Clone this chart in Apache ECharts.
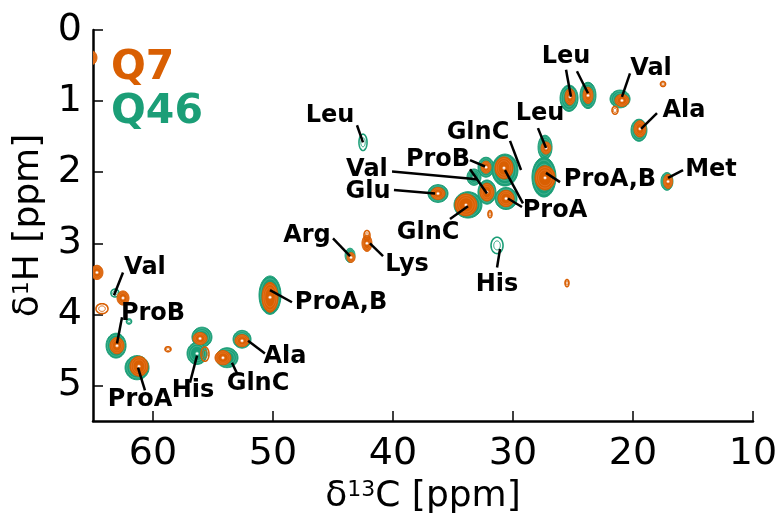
<!DOCTYPE html>
<html><head><meta charset="utf-8">
<script src="https://cdn.jsdelivr.net/npm/echarts@6/dist/echarts.min.js"></script>
<style>html,body{margin:0;padding:0;background:#fff}#c{width:783px;height:516px}</style>
</head><body><div id="c"></div>
<script>
// axis ticks (ppm)
const xTicks = [10, 20, 30, 40, 50, 60];
const yTicks = [0, 1, 2, 3, 4, 5];

// Q46 filled peaks: [13C ppm, 1H ppm, width 13C ppm, width 1H ppm]
const q46Peaks = [
  [63.08, 4.44, 1.67, 0.35], [61.33, 4.75, 2.0, 0.34], [55.92, 4.32, 1.67, 0.28],
  [56.33, 4.55, 1.67, 0.31], [53.83, 4.61, 1.83, 0.28], [52.58, 4.35, 1.5, 0.25],
  [50.25, 3.73, 1.83, 0.54], [43.58, 3.17, 0.83, 0.2], [36.25, 2.3, 1.67, 0.25],
  [33.75, 2.46, 2.33, 0.37], [32.25, 1.93, 1.33, 0.28], [33.25, 2.07, 1.17, 0.23],
  [32.17, 2.28, 1.5, 0.34], [30.67, 1.97, 2.17, 0.45], [30.58, 2.37, 1.83, 0.31],
  [27.33, 1.65, 1.17, 0.34], [27.42, 2.07, 2.0, 0.56], [25.33, 0.96, 1.5, 0.37],
  [23.75, 0.92, 1.33, 0.37], [21.08, 0.97, 1.67, 0.25], [19.5, 1.41, 1.33, 0.31],
  [17.17, 2.13, 1.0, 0.25]
];
// Q46 weak peaks drawn as contour outlines only
const q46Rings = [
  [63.17, 3.70, 0.67, 0.11], [42.5, 1.58, 0.67, 0.23], [31.33, 3.03, 1.0, 0.23],
  [62.0, 4.1, 0.42, 0.07]
];
// Q7 filled peaks
const q7Peaks = [
  [63.0, 4.44, 1.17, 0.23], [61.17, 4.73, 1.5, 0.28], [56.08, 4.34, 1.17, 0.17],
  [54.17, 4.61, 1.33, 0.2], [52.58, 4.37, 1.17, 0.17], [50.25, 3.76, 1.33, 0.42],
  [43.5, 3.2, 0.67, 0.14], [36.25, 2.3, 1.17, 0.17], [33.92, 2.46, 1.83, 0.31],
  [32.25, 1.93, 0.83, 0.17], [32.17, 2.28, 1.17, 0.25], [30.75, 1.94, 1.5, 0.31],
  [30.58, 2.37, 1.33, 0.23], [27.25, 1.66, 0.83, 0.17], [27.33, 2.08, 1.67, 0.34],
  [25.25, 0.94, 0.83, 0.23], [23.75, 0.92, 0.83, 0.23], [20.92, 0.99, 1.17, 0.17],
  [19.42, 1.39, 1.0, 0.23], [17.08, 2.13, 0.75, 0.2],
  [65.17, 0.39, 1.0, 0.2], [64.67, 3.41, 1.0, 0.2], [62.5, 3.77, 1.0, 0.2],
  [42.17, 3.0, 0.83, 0.23]
];
// Q7 weak peaks drawn as contour outlines only
const q7Rings = [
  [55.67, 4.56, 0.67, 0.2], [64.25, 3.92, 1.0, 0.14], [58.75, 4.49, 0.5, 0.07],
  [42.17, 2.89, 0.5, 0.14], [31.92, 2.59, 0.33, 0.1], [25.5, 3.56, 0.33, 0.1],
  [17.5, 0.76, 0.42, 0.07], [21.5, 1.13, 0.5, 0.11]
];

// assignment labels: [text, 13C ppm, 1H ppm]
const labelNames = ['Leu','Val','ProB','GlnC','Leu','Glu','GlnC','ProA','ProA,B','Leu','Val','Ala','Met','His','Arg','Lys','ProA,B','Val','ProB','ProA','His','GlnC','Ala'];
const labelC = [45.25,42.17,36.25,32.92,27.75,42.08,37.08,26.5,21.92,25.58,18.5,15.75,13.5,31.33,47.17,38.83,44.33,60.67,60.0,61.08,56.67,51.25,49.0];
const labelH = [1.21,1.97,1.83,1.45,1.18,2.28,2.85,2.54,2.11,0.38,0.54,1.13,1.97,3.59,2.89,3.3,3.83,3.35,3.99,5.2,5.08,4.97,4.59];
// leader lines: [C1, H1, C2, H2]
const leaders = [
  [43.0,1.34,42.5,1.58], [40.08,1.99,33.0,2.1], [33.58,1.83,32.33,1.92], [33.58,1.96,32.17,2.3],
  [30.25,1.56,29.33,1.97], [27.92,1.38,27.25,1.66], [39.92,2.25,36.5,2.3], [35.25,2.66,33.75,2.48],
  [30.67,1.97,29.17,2.44], [30.42,2.37,29.25,2.49], [27.25,2.01,26.08,2.14], [25.58,0.56,25.17,0.94],
  [24.67,0.58,23.75,0.89], [20.25,0.61,20.92,0.94], [18.0,1.17,19.33,1.39], [15.83,1.97,17.08,2.08],
  [31.33,3.34,31.08,3.08], [45.0,2.93,43.58,3.18], [41.92,3.0,40.83,3.18], [50.25,3.66,48.42,3.83],
  [62.5,3.41,63.25,3.73], [62.58,4.04,63.0,4.41], [60.67,5.07,61.25,4.75], [56.92,4.96,56.33,4.58],
  [53.0,4.83,53.42,4.68], [50.67,4.55,52.08,4.37]
];

const GREEN = '#1b9e77', ORANGE = '#d95f02';
const FONT = 'DejaVu Sans';

function ell(cx, cy, rx, ry) {
  const p = [];
  for (let i = 0; i < 48; i++) { const a = 2 * Math.PI * i / 48; p.push([cx + rx * Math.cos(a), cy + ry * Math.sin(a)]); }
  return p;
}
function peakRender(color, lineColor, filled) {
  return function (params, api) {
    const c = api.coord([api.value(0), api.value(1)]);
    const s = api.size([api.value(2), api.value(3)]);
    const rx = Math.abs(s[0]) / 2, ry = Math.abs(s[1]) / 2;
    const ch = [];
    if (filled) {
      ch.push({ type: 'polygon', shape: { points: ell(c[0], c[1], rx, ry) }, style: { fill: color, stroke: color, lineWidth: 1 } });
      [0.85, 0.65].forEach(f => ch.push({ type: 'polygon', shape: { points: ell(c[0], c[1], rx * f, ry * f) }, style: { fill: null, stroke: lineColor, lineWidth: 0.5 } }));
      ch.push({ type: 'circle', shape: { cx: c[0], cy: c[1], r: 1.5 }, style: { fill: '#fff', stroke: lineColor, lineWidth: 0.5 } });
    } else {
      ch.push({ type: 'polygon', shape: { points: ell(c[0], c[1], rx, ry) }, style: { fill: null, stroke: color, lineWidth: 1.6 } });
      ch.push({ type: 'polygon', shape: { points: ell(c[0], c[1], rx * 0.55, ry * 0.55) }, style: { fill: null, stroke: color, lineWidth: 1 } });
    }
    return { type: 'group', children: ch };
  };
}

const chart = echarts.init(document.getElementById('c'));
chart.setOption({
  animation: false,
  backgroundColor: '#fff',
  grid: { left: 93, right: 30, top: 30, bottom: 95, containLabel: false, outerBoundsMode: 'none' },
  xAxis: {
    type: 'value', min: 10, max: 65, interval: 10, inverse: true,
    axisLine: { onZero: false, lineStyle: { color: '#000', width: 2.5 } },
    axisTick: { inside: true, length: 10, lineStyle: { color: '#000', width: 1.5 } },
    axisLabel: { showMaxLabel: false, color: '#000', fontFamily: FONT, fontSize: 38, margin: 14,
      formatter: v => xTicks.includes(v) ? String(v) : '' },
    splitLine: { show: false },
    name: '{a|δ}{s|13}{a|C [ppm]}', nameLocation: 'middle', nameGap: 58,
    nameTextStyle: { rich: { a: { fontFamily: FONT, fontSize: 36, color: '#000' }, s: { fontFamily: FONT, fontSize: 22, color: '#000', verticalAlign: 'top' } } }
  },
  yAxis: {
    type: 'value', min: 0, max: 5.5, interval: 1, inverse: true,
    axisLine: { onZero: false, lineStyle: { color: '#000', width: 2.5 } },
    axisTick: { inside: true, length: 10, lineStyle: { color: '#000', width: 1.5 } },
    axisLabel: { showMaxLabel: false, color: '#000', fontFamily: FONT, fontSize: 38, margin: 11,
      formatter: v => yTicks.includes(v) ? String(v) : '' },
    splitLine: { show: false },
    name: '{a|δ}{s|1}{a|H [ppm]}', nameLocation: 'middle', nameGap: 44, nameRotate: 90,
    nameTextStyle: { rich: { a: { fontFamily: FONT, fontSize: 36, color: '#000' }, s: { fontFamily: FONT, fontSize: 22, color: '#000', verticalAlign: 'top' } } }
  },
  graphic: [
    { type: 'text', left: 111, top: 48, style: { text: 'Q7', fill: ORANGE, font: 'bold 41px "DejaVu Sans"' } },
    { type: 'text', left: 111, top: 92, style: { text: 'Q46', fill: GREEN, font: 'bold 41px "DejaVu Sans"' } }
  ],
  series: [
    { type: 'custom', clip: true, renderItem: peakRender(GREEN, '#6cc7a6', true), data: q46Peaks, z: 2 },
    { type: 'custom', clip: true, renderItem: peakRender(GREEN, GREEN, false), data: q46Rings, z: 2 },
    { type: 'custom', clip: true, renderItem: peakRender(ORANGE, '#e8843f', true), data: q7Peaks, z: 3 },
    { type: 'custom', clip: true, renderItem: peakRender(ORANGE, ORANGE, false), data: q7Rings, z: 3 },
    { type: 'custom', clip: false, z: 4, data: leaders,
      renderItem: (p, api) => {
        const a = api.coord([api.value(0), api.value(1)]), b = api.coord([api.value(2), api.value(3)]);
        return { type: 'line', shape: { x1: a[0], y1: a[1], x2: b[0], y2: b[1] }, style: { stroke: '#000', lineWidth: 2.5 } };
      } },
    { type: 'custom', clip: false, z: 5, data: labelC.map((c, i) => [c, labelH[i]]),
      renderItem: (p, api) => {
        const a = api.coord([api.value(0), api.value(1)]);
        return { type: 'text', x: a[0], y: a[1], style: { text: labelNames[p.dataIndex], fill: '#000', font: 'bold 24px "DejaVu Sans"', align: 'center', verticalAlign: 'middle' } };
      } }
  ]
});
</script></body></html>
